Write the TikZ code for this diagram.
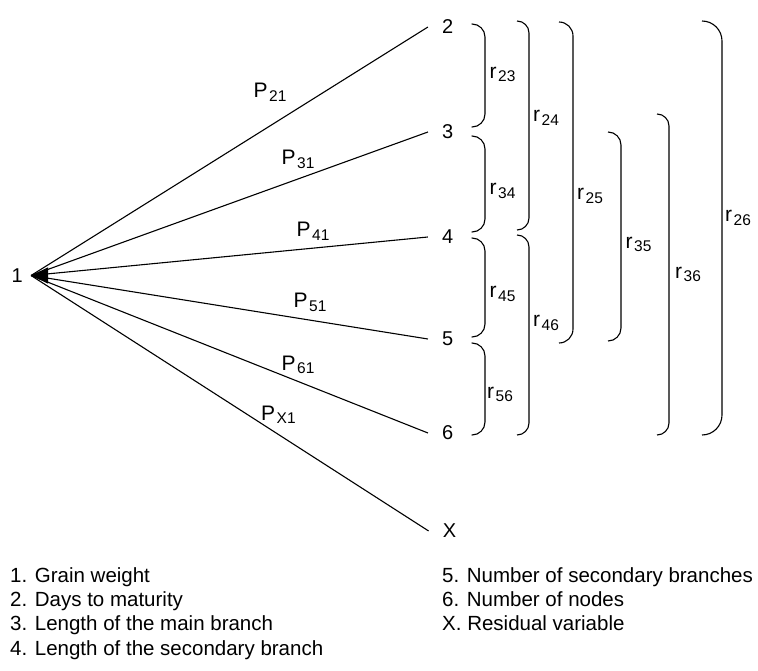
\documentclass[tikz,border=0pt]{standalone}
\usepackage{fontspec}
\setmainfont{Liberation Sans}
\usetikzlibrary{arrows.meta}

\newcommand{\lowsub}[1]{\kern1.5pt\raisebox{-3.5pt}{\fontsize{15.5}{16}\selectfont#1}}

\tikzset{
  var/.style={font=\fontsize{20}{24}\selectfont, inner xsep=14pt, inner ysep=2pt},
  coef/.style={font=\fontsize{21}{24}\selectfont, anchor=base west, inner sep=0pt},
  legend/.style={font=\fontsize{20.5}{24}\selectfont, anchor=base west, inner sep=0pt},
  link/.style={line width=1.1pt},
  brk/.style={line width=1.1pt, rounded corners=#1},
}

\begin{document}
\begin{tikzpicture}[x=1pt, y=-1pt]
      \useasboundingbox (0,0) rectangle (758,671);
      \node[var, inner xsep=8pt] (n1) at (17.3,275.5) {1};
      \node[var] (v2) at (447.7,27) {2};
      \node[var] (v3) at (447.7,132) {3};
      \node[var] (v4) at (447.7,237) {4};
      \node[var] (v5) at (447.7,339) {5};
      \node[var] (v6) at (447.7,433) {6};
      \node[var] (vx) at (449.5,531) {X};
      \coordinate (hub) at (47,275.5);

      \begin{scope}[link]
        \draw (v2.west) -- (n1.east);
        \draw (v3.west) -- (n1.east);
        \draw (v4.west) -- (n1.east);
        \draw (v5.west) -- (n1.east);
        \draw (v6.west) -- (n1.east);
        \draw (vx.west) -- (n1.east);
        \draw[-{Triangle[length=17pt,width=16pt]}] (hub) -- (n1.east);
      \end{scope}

      % path coefficients
      \node[coef] (p21) at (253.5,98) {P\lowsub{21}};
      \node[coef] (p31) at (281.5,165) {P\lowsub{31}};
      \node[coef] (p41) at (296.5,237) {P\lowsub{41}};
      \node[coef] (p51) at (293.5,308) {P\lowsub{51}};
      \node[coef] (p61) at (281.5,370) {P\lowsub{61}};
      \node[coef] (px1) at (261,420) {P\lowsub{X1}};

      % correlations
      \draw[brk=13pt] (471.7,24) -- (485,24) -- (485,127) -- (471.7,127);
      \draw[brk=13pt] (471.7,136) -- (485,136) -- (485,232) -- (471.7,232);
      \draw[brk=13pt] (471.7,238) -- (485,238) -- (485,337) -- (471.7,337);
      \draw[brk=13pt] (471.7,343) -- (485,343) -- (485,435) -- (471.7,435);
      \draw[brk=12pt] (517,21) -- (529,21) -- (529,230) -- (517,230);
      \draw[brk=12pt] (517,235) -- (529,235) -- (529,435) -- (517,435);
      \draw[brk=14pt] (559,22) -- (573,22) -- (573,343) -- (559,343);
      \draw[brk=13pt] (608,132) -- (621,132) -- (621,341) -- (608,341);
      \draw[brk=12pt] (657,114) -- (669,114) -- (669,435) -- (657,435);
      \draw[brk=20pt] (702,21) -- (722,21) -- (722,435) -- (702,435);

      \node[coef] (r23) at (489.5,78.3) {r\lowsub{23}};
      \node[coef] (r34) at (489.5,195) {r\lowsub{34}};
      \node[coef] (r45) at (489.5,297.7) {r\lowsub{45}};
      \node[coef] (r56) at (487,398) {r\lowsub{56}};
      \node[coef] (r24) at (533,121.7) {r\lowsub{24}};
      \node[coef] (r46) at (533,326.7) {r\lowsub{46}};
      \node[coef] (r25) at (577,200) {r\lowsub{25}};
      \node[coef] (r35) at (625.5,248.3) {r\lowsub{35}};
      \node[coef] (r36) at (675,278.3) {r\lowsub{36}};
      \node[coef] (r26) at (725,221.7) {r\lowsub{26}};

      % legend
      \node[legend] (l1) at (10,582) {1. Grain weight};
      \node[legend] (l2) at (10,606) {2. Days to maturity};
      \node[legend] (l3) at (10,630) {3. Length of the main branch};
      \node[legend] (l4) at (10,655) {4. Length of the secondary branch};
      \node[legend] (l5) at (442,582) {5. Number of secondary branches};
      \node[legend] (l6) at (442,606) {6. Number of nodes};
      \node[legend] (lx) at (442,630) {X. Residual variable};
    \end{tikzpicture}
\end{document}
